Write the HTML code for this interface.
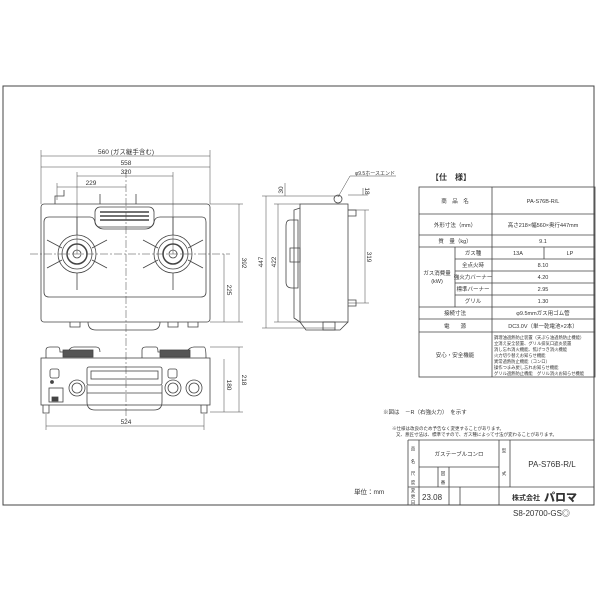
<!DOCTYPE html>
<html><head><meta charset="utf-8"><style>
html,body{margin:0;padding:0;background:#fff;}
svg{display:block;}
text{font-family:"Liberation Sans","Noto Sans CJK JP",sans-serif;fill:#333;}
</style></head><body>
<svg width="600" height="600" viewBox="0 0 600 600" xmlns="http://www.w3.org/2000/svg">
<g fill="none" stroke="#444" stroke-width="0.8">
<rect x="3" y="86" width="591" height="419" stroke-width="1"/>
<!-- top view -->
<rect x="41" y="204" width="169" height="118" rx="3"/>
<path d="M44 222 Q44 217 49 217 H90 Q94 217 95 222 Q97 229 104 229 H145 Q152 229 154 222 Q155 217 160 217 H202 Q206 217 206 222 V292 Q206 297 201 297 H49 Q44 297 44 292 Z"/>
<rect x="95" y="207" width="59" height="20" rx="5"/>
<g stroke-width="1.4"><line x1="100" y1="212" x2="149" y2="212"/><line x1="100" y1="216" x2="149" y2="216"/><line x1="100" y1="220" x2="149" y2="220"/></g>
<g id="b1"><circle cx="77" cy="254" r="19"/><circle cx="77" cy="254" r="15"/><circle cx="77" cy="254" r="10" stroke-width="1.5"/><circle cx="77" cy="254" r="4"/>
<path d="M77 217 V235 M77 273 V290 M47 240 L62 248 M107 240 L92 248 M47 268 L62 260 M107 268 L92 260"/></g>
<use href="#b1" x="96"/>
<path d="M55 204 V196 H64 V190 M100 204 V194 M136 204 V194"/>
<path d="M70 322 V327 H80 V322 M88 322 Q88 330 96 330 H152 Q160 330 160 322 M168 322 V327 H178 V322 M188 322 V327 H198 V322"/>
<!-- dims top -->
<g stroke-width="0.5">
<path d="M41 156 H210 M41 167 H210 M77 176 H173 M57 187 H126 M41 150 V204 M210 150 V204 M77 172 V254 M173 172 V254 M57 183 V200"/>
<path d="M126 170 V420" stroke-dasharray="8 2 2 2"/>
<path d="M30 254 H230" stroke-dasharray="8 2 2 2"/>
<path d="M239 204 V322 M224 254 V322 M210 204 H243 M210 322 H243"/>
</g>
<!-- front view -->
<rect x="41" y="358" width="169" height="47"/>
<path d="M46 358 V350 Q46 347 50 347 H58 Q60 347 60 352 H68 Q70 347 74 347 H96 Q100 347 100 352 M142 358 V350 Q142 347 146 347 H156 Q158 347 158 352 H186 Q190 347 194 347 H204 Q206 347 206 358"/>
<rect x="63" y="350" width="30" height="7" fill="#555"/><rect x="160" y="350" width="30" height="7" fill="#555"/>
<rect x="87" y="367" width="75" height="18" rx="2"/><rect x="91" y="371" width="67" height="8"/>
<path d="M87 385 V402 Q87 410 95 410 H154 Q162 410 162 402 V385 M87 393 H162" />
<circle cx="77" cy="388" r="8"/><circle cx="77" cy="388" r="5"/>
<circle cx="173" cy="388" r="8"/><circle cx="173" cy="388" r="5"/>
<circle cx="194" cy="388" r="8"/><circle cx="194" cy="388" r="5"/>
<rect x="50" y="369" width="9" height="9" rx="2"/><rect x="168" y="369" width="9" height="9" rx="2"/>
<circle cx="52" cy="382" r="1.5" fill="#444"/>
<rect x="49" y="388" width="14" height="14"/><rect x="52" y="397" width="6" height="4" fill="#444"/>
<path d="M43 405 V413 H49 V405 M201 405 V413 H207 V405"/>
<g stroke-width="0.5"><path d="M224 359 V412 M239 347 V412 M210 347 H243 M210 412 H243 M46 426 H204 M46 414 V430 M204 414 V430"/></g>
<!-- side view -->
<rect x="300" y="204" width="48" height="118"/>
<path d="M300 208 L294 210 V318 L300 322 M290 220 Q286 220 286 226 V282 Q286 288 292 288 H298 V220 Z M290 248 H300 V262 H290 Z M300 322 L306 330 H340 L348 322"/>
<rect x="323" y="322" width="12" height="8"/>
<circle cx="338" cy="199" r="4"/><path d="M348 210 H356 V216 H348 M348 300 H356 V306 H348"/>
<g stroke-width="0.5"><path d="M266 196 V328 M278 204 V322 M262 196 H340 M262 328 H335 M274 204 H300 M274 322 H300 M365 210 V303 M348 210 H369 M348 303 H369 M363 188 V195 M348 195 H368 M285 183 V196 M338 197 L350 176 H396"/></g>
<!-- table -->
<rect x="419" y="187" width="176" height="190"/>
<path d="M492 187 V377 M455 247 V307 M544 247 V259 M419 214 H595 M419 235 H595 M419 247 H595 M455 259 H595 M455 271 H595 M455 283 H595 M455 295 H595 M419 307 H595 M419 319 H595 M419 332 H595"/>
<!-- title block -->
<path d="M408 440 H594 M408 440 V505 M419 440 V505 M499 440 V505 M510 440 V487 M419 467 H499 M438 467 V487 M449 467 V505 M460 487 V505 M408 487 H594"/>
</g>
<g font-size="6.5" text-anchor="middle">
<text x="126" y="154">560 (ガス継手含む)</text>
<text x="126" y="165">558</text>
<text x="126" y="174">320</text>
<text x="91" y="185">229</text>
<text x="126" y="424">524</text>
<text transform="translate(242 263) rotate(90)">392</text>
<text transform="translate(227 290) rotate(90)">225</text>
<text transform="translate(227 385) rotate(90)">180</text>
<text transform="translate(242 380) rotate(90)">218</text>
<text transform="translate(263 262) rotate(-90)">447</text>
<text transform="translate(276 262) rotate(-90)">422</text>
<text transform="translate(283 190) rotate(-90)">30</text>
<text transform="translate(367 257) rotate(90)">319</text>
<text transform="translate(365 191) rotate(90)">18</text>
<text x="375" y="175" font-size="5">φ9.5ホースエンド</text>
</g>
<g font-size="5.5" text-anchor="middle">
<text x="431" y="180" font-size="8" text-anchor="start" font-weight="bold">【仕　様】</text>
<text x="455" y="203">商　品　名</text><text x="543" y="203">PA-S76B-R/L</text>
<text x="455" y="227">外形寸法（mm）</text><text x="543" y="227">高さ218×幅560×奥行447mm</text>
<text x="455" y="243">質　量（kg）</text><text x="543" y="243">9.1</text>
<text x="473" y="255">ガス種</text><text x="518" y="255">13A</text><text x="570" y="255">LP</text>
<text x="473" y="267">全点火時</text><text x="543" y="267">8.10</text>
<text x="473" y="279">強火力バーナー</text><text x="543" y="279">4.20</text>
<text x="473" y="291">標準バーナー</text><text x="543" y="291">2.95</text>
<text x="473" y="303">グリル</text><text x="543" y="303">1.30</text>
<text x="437" y="275">ガス消費量</text><text x="437" y="283">(kW)</text>
<text x="455" y="315">接続寸法</text><text x="543" y="315">φ9.5mmガス用ゴム管</text>
<text x="455" y="328">電　　源</text><text x="543" y="328">DC3.0V（単一乾電池×2本）</text>
<text x="455" y="357">安心・安全機能</text>
</g>
<g font-size="4.3">
<text x="494" y="339">調理油過熱防止装置（天ぷら油過熱防止機能）</text>
<text x="494" y="345">立消え安全装置、グリル排気口遮炎装置</text>
<text x="494" y="351">消し忘れ消火機能、焦げつき消火機能</text>
<text x="494" y="357">火力切り替えお知らせ機能</text>
<text x="494" y="363">異常過熱防止機能（コンロ）</text>
<text x="494" y="369">操作つまみ戻し忘れお知らせ機能</text>
<text x="494" y="375">グリル過熱防止機能　グリル消火お知らせ機能</text>
</g>
<g font-size="5.5">
<text x="383" y="414">※図は　－R（右強火力）　を示す</text>
<text x="392" y="430" font-size="4.5">※仕様は改良のため予告なく変更することがあります。</text>
<text x="396" y="436" font-size="4.5">又、意匠寸法は、標準ですので、ガス種によって寸法が変わることがあります。</text>
<text x="459" y="456" text-anchor="middle">ガステーブルコンロ</text>
<text x="552" y="467" text-anchor="middle" font-size="8">PA-S76B-R/L</text>
<text x="422" y="500" font-size="8">23.08</text>
<text x="354" y="494" font-size="6.5">単位：mm</text>
<text x="512" y="500" font-size="7" font-weight="bold">株式会社</text>
<text x="544" y="501" font-size="11" font-weight="900">パロマ</text>
<text x="513" y="516" font-size="8" fill="#666">S8-20700-GS◎</text>
<g font-size="4.5" text-anchor="middle">
<text x="413" y="450">品</text><text x="413" y="463">名</text>
<text x="413" y="475">尺</text><text x="413" y="484">度</text>
<text x="413" y="492">変</text><text x="413" y="498">更</text><text x="413" y="504">日</text>
<text x="443" y="475">図</text><text x="443" y="484">番</text>
<text x="504" y="452">型</text><text x="504" y="475">式</text>
</g>
</g>
</svg>
</body></html>
